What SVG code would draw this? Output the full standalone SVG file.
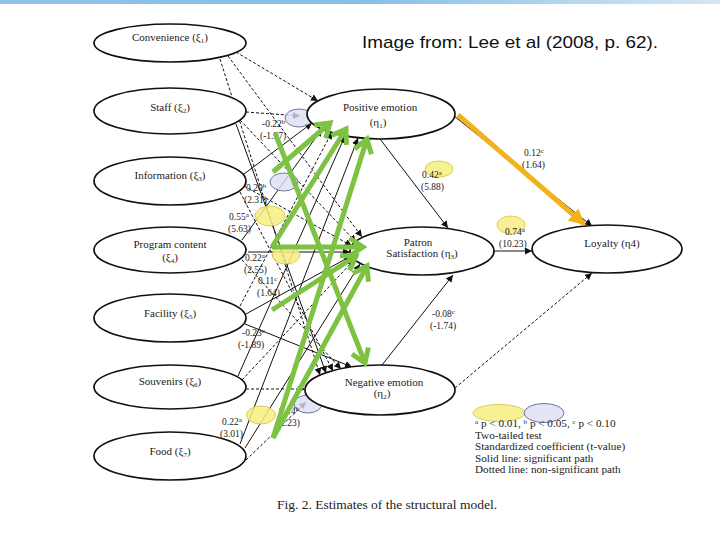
<svg xmlns="http://www.w3.org/2000/svg" width="720" height="540" viewBox="0 0 720 540">
<defs>
<linearGradient id="bar" x1="0" y1="0" x2="1" y2="0">
<stop offset="0" stop-color="#8CC4E6"/>
<stop offset="0.5" stop-color="#84C0E6"/>
<stop offset="1" stop-color="#D6E6F4"/>
</linearGradient>
<marker id="ab" viewBox="0 0 10 10" refX="10" refY="5" markerWidth="7" markerHeight="7" markerUnits="userSpaceOnUse" orient="auto"><path d="M0,0 L10,5 L0,10 z" fill="#111"/></marker>
<marker id="ga" viewBox="0 0 20 20" refX="15" refY="10" markerWidth="22" markerHeight="22" markerUnits="userSpaceOnUse" orient="auto"><path d="M3,2 L15,10 L3,18" fill="none" stroke="#7DC242" stroke-width="4.5" stroke-linecap="butt"/></marker>
<marker id="oa" viewBox="0 0 10 10" refX="9" refY="5" markerWidth="18" markerHeight="16" markerUnits="userSpaceOnUse" orient="auto"><path d="M0,0 L10,5 L0,10 z" fill="#F2B21E"/></marker>
<style>
.node ellipse{fill:#fff;stroke:#111;stroke-width:1.7}
.lbl{font-family:"Liberation Serif","Times New Roman",serif;font-size:11px;fill:#222;text-anchor:middle}
.c{stroke:#111;stroke-width:1;fill:none;marker-end:url(#ab)}
.d{stroke-dasharray:3 2}
.coef{font-family:"Liberation Serif","Times New Roman",serif;font-size:9.5px;fill:#222}
.g{stroke:#7DC242;stroke-width:5;fill:none;marker-end:url(#ga)}
.hy{fill:#F6EF80;fill-opacity:0.85;stroke:#D2C43A;stroke-width:0.8}
.hb{fill:#DCDFF2;fill-opacity:0.8;stroke:#50548E;stroke-width:0.8}
.leg{font-family:"Liberation Serif","Times New Roman",serif;font-size:11.2px;fill:#222}
.sup{font-size:7px}
</style>
</defs>
<rect width="720" height="540" fill="#fff"/>
<rect x="0" y="0" width="720" height="4" fill="url(#bar)"/>
<text x="362" y="48" font-family="Liberation Sans, Arial, sans-serif" font-size="17" textLength="296" lengthAdjust="spacingAndGlyphs" fill="#111">Image from: Lee et al (2008, p. 62).</text>

<g id="connectors">
<line class="c d" x1="236" y1="52" x2="318" y2="101"/>
<line class="c d" x1="228" y1="56" x2="362" y2="237"/>
<line class="c d" x1="220" y1="59" x2="320" y2="375"/>
<line class="c d" x1="246" y1="112" x2="300" y2="116"/>
<line class="c d" x1="240" y1="120" x2="356" y2="242"/>
<line class="c" x1="236" y1="124" x2="326" y2="373"/>
<line class="c" x1="244" y1="174" x2="312" y2="123"/>
<line class="c d" x1="244" y1="186" x2="352" y2="246"/>
<line class="c d" x1="240" y1="192" x2="333" y2="371"/>
<line class="c" x1="242" y1="240" x2="322" y2="129"/>
<line class="c" x1="248" y1="252" x2="350" y2="252" stroke-width="2"/>
<line class="c d" x1="242" y1="260" x2="341" y2="369"/>
<line class="c d" x1="240" y1="306" x2="332" y2="132"/>
<line class="c" x1="246" y1="314" x2="351" y2="256"/>
<line class="c" x1="245" y1="324" x2="352" y2="367"/>
<line class="c" x1="238" y1="376" x2="345" y2="136"/>
<line class="c d" x1="242" y1="380" x2="354" y2="260"/>
<line class="c d" x1="246" y1="389" x2="305" y2="389"/>
<line class="c" x1="240" y1="444" x2="358" y2="138"/>
<line class="c" x1="245" y1="448" x2="360" y2="264"/>
<line class="c d" x1="246" y1="460" x2="306" y2="402"/>
<line class="c" x1="380" y1="139" x2="448" y2="228"/>
<line class="c" x1="454" y1="116" x2="592" y2="226"/>
<line class="c" x1="494" y1="251" x2="532" y2="251"/>
<line class="c" x1="382" y1="365" x2="453" y2="275"/>
<line class="c d" x1="455" y1="388" x2="592" y2="273"/>
</g>

<g id="highlights">
<ellipse class="hb" cx="299" cy="118" rx="14" ry="9"/>
<ellipse class="hb" cx="284" cy="182" rx="14" ry="9"/>
<ellipse class="hy" cx="270" cy="216" rx="15" ry="10"/>
<ellipse class="hy" cx="286" cy="255" rx="14" ry="9"/>
<ellipse class="hy" cx="261" cy="415" rx="14.5" ry="9"/>
<ellipse class="hb" cx="308" cy="404" rx="14" ry="9"/>
<ellipse class="hy" cx="439" cy="169" rx="14" ry="8"/>
<ellipse class="hy" cx="511" cy="225" rx="14" ry="9"/>
</g>

<g id="convenience" class="node"><ellipse cx="170" cy="43" rx="76" ry="19"/><text class="lbl" x="170" y="41">Convenience (ξ<tspan font-size="7" dy="2">1</tspan><tspan dy="-2">)</tspan></text></g>
<g id="staff" class="node"><ellipse cx="170" cy="111" rx="76" ry="23"/><text class="lbl" x="170" y="111">Staff (ξ<tspan font-size="7" dy="2">2</tspan><tspan dy="-2">)</tspan></text></g>
<g id="information" class="node"><ellipse cx="170" cy="181" rx="76" ry="24"/><text class="lbl" x="170" y="179">Information (ξ<tspan font-size="7" dy="2">3</tspan><tspan dy="-2">)</tspan></text></g>
<g id="program" class="node"><ellipse cx="170" cy="250" rx="76" ry="23"/><text class="lbl" x="170" y="248">Program content</text><text class="lbl" x="170" y="261">(ξ<tspan font-size="7" dy="2">4</tspan><tspan dy="-2">)</tspan></text></g>
<g id="facility" class="node"><ellipse cx="170" cy="318" rx="76" ry="24"/><text class="lbl" x="170" y="317">Facility (ξ<tspan font-size="7" dy="2">5</tspan><tspan dy="-2">)</tspan></text></g>
<g id="souvenirs" class="node"><ellipse cx="170" cy="387" rx="76" ry="22"/><text class="lbl" x="170" y="385">Souvenirs (ξ<tspan font-size="7" dy="2">6</tspan><tspan dy="-2">)</tspan></text></g>
<g id="food" class="node"><ellipse cx="170" cy="456" rx="76" ry="24"/><text class="lbl" x="170" y="455">Food (ξ<tspan font-size="7" dy="2">7</tspan><tspan dy="-2">)</tspan></text></g>
<g id="positive" class="node"><ellipse cx="381" cy="114" rx="74" ry="25"/><text class="lbl" x="380" y="111">Positive emotion</text><text class="lbl" x="378" y="126">(η<tspan font-size="7" dy="2">1</tspan><tspan dy="-2">)</tspan></text></g>
<g id="patron" class="node"><ellipse cx="422" cy="251" rx="72" ry="24"/><text class="lbl" x="418" y="246">Patron</text><text class="lbl" x="422" y="257">Satisfaction (η<tspan font-size="7" dy="2">3</tspan><tspan dy="-2">)</tspan></text></g>
<g id="loyalty" class="node"><ellipse cx="607" cy="249" rx="75" ry="24"/><text class="lbl" x="612" y="247">Loyalty (η4)</text></g>
<g id="negative" class="node"><ellipse cx="380" cy="390" rx="75" ry="25"/><text class="lbl" x="384" y="386">Negative emotion</text><text class="lbl" x="382" y="397">(η<tspan font-size="7" dy="2">2</tspan><tspan dy="-2">)</tspan></text></g>

<g id="coefficients" class="coef">
<text x="262" y="127">-0.22<tspan class="sup" dy="-3">b</tspan></text>
<text x="260" y="139">(-1.97)</text>
<text x="246" y="191">0.20<tspan class="sup" dy="-3">b</tspan></text>
<text x="244" y="203">(2.31)</text>
<text x="229" y="220">0.55<tspan class="sup" dy="-3">a</tspan></text>
<text x="228" y="232">(5.63)</text>
<text x="245" y="261">0.22<tspan class="sup" dy="-3">a</tspan></text>
<text x="244" y="273">(2.55)</text>
<text x="258" y="284">0.11<tspan class="sup" dy="-3">c</tspan></text>
<text x="257" y="296">(1.64)</text>
<text x="242" y="336">-0.23<tspan class="sup" dy="-3">c</tspan></text>
<text x="238" y="348">(-1.89)</text>
<text x="222" y="425">0.22<tspan class="sup" dy="-3">a</tspan></text>
<text x="220" y="437">(3.01)</text>
<text x="279" y="414">0.14<tspan class="sup" dy="-3">b</tspan></text>
<text x="277" y="426">(2.23)</text>
<text x="422" y="178">0.42<tspan class="sup" dy="-3">a</tspan></text>
<text x="421" y="190">(5.88)</text>
<text x="524" y="156">0.12<tspan class="sup" dy="-3">c</tspan></text>
<text x="522" y="168">(1.64)</text>
<text x="505" y="235">0.74<tspan class="sup" dy="-3">a</tspan></text>
<text x="499" y="247">(10.23)</text>
<text x="432" y="317">-0.08<tspan class="sup" dy="-3">c</tspan></text>
<text x="430" y="329">(-1.74)</text>
</g>

<g id="green-arrows">
<line class="g" x1="275" y1="133" x2="365" y2="363"/>
<line class="g" x1="273" y1="172" x2="330" y2="123"/>
<line class="g" x1="272" y1="247" x2="346" y2="129"/>
<line class="g" x1="272" y1="247" x2="363" y2="247"/>
<line class="g" x1="273" y1="438" x2="367" y2="139"/>
<line class="g" x1="273" y1="438" x2="367" y2="266"/>
<line class="g" x1="272" y1="310" x2="356" y2="256"/>
</g>
<line id="orange-arrow" x1="458" y1="115" x2="584" y2="224" stroke="#F2B21E" stroke-width="5" marker-end="url(#oa)"/>

<g id="legend">
<ellipse class="hy" cx="499" cy="413" rx="26" ry="8.5"/>
<ellipse class="hb" cx="544" cy="413" rx="20" ry="9.5"/>
<text class="leg" x="475" y="427"><tspan class="sup" dy="-3">a</tspan><tspan dy="3"> p &lt; 0.01, </tspan><tspan class="sup" dy="-3">b</tspan><tspan dy="3"> p &lt; 0.05, </tspan><tspan class="sup" dy="-3">c</tspan><tspan dy="3"> p &lt; 0.10</tspan></text>
<text class="leg" x="475" y="438.5">Two-tailed test</text>
<text class="leg" x="475" y="450">Standardized coefficient (t-value)</text>
<text class="leg" x="475" y="461.5">Solid line: significant path</text>
<text class="leg" x="475" y="473">Dotted line: non-significant path</text>
</g>
<text x="277" y="509" font-family="Liberation Serif, Times New Roman, serif" font-size="13.5" fill="#222">Fig. 2. Estimates of the structural model.</text>
</svg>
